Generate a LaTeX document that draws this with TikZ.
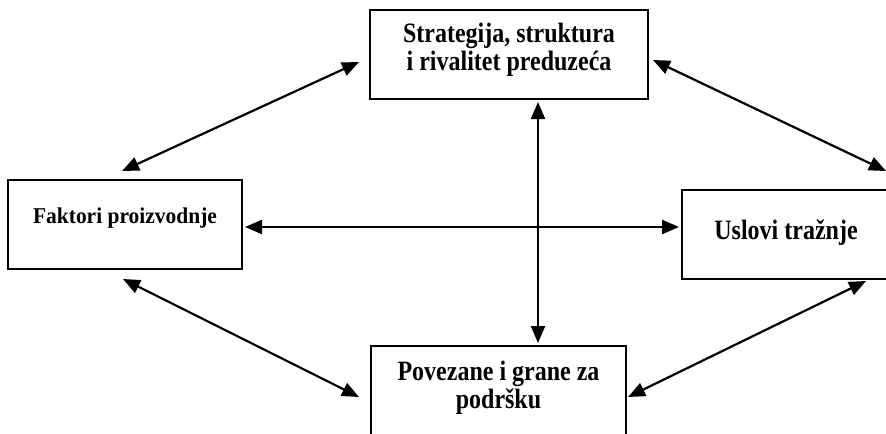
\documentclass[tikz,border=0pt]{standalone}
\usepackage{fontspec}
\setmainfont{Liberation Serif}
\newfontfamily\boxfont[FakeStretch=0.857]{Liberation Serif}
\newfontfamily\facfont[FakeStretch=0.95]{Liberation Serif}
\usetikzlibrary{arrows.meta}
\tikzset{
    box/.style={
        draw,
        line width=1pt,
        inner sep=0pt,
        align=center,
        font=\boxfont\bfseries\fontsize{14}{11.5}\selectfont
    },
    every edge/.append style={
        draw,
        line width=1.1pt,
        {Triangle[length=8.5pt,width=7pt]}-{Triangle[length=8.5pt,width=7pt]}
    }
}

\begin{document}
\begin{tikzpicture}[x=0.5pt,y=-0.5pt]
    \useasboundingbox (0,0) rectangle (886,433);
    \clip (0,0) rectangle (886,433);

    \node[box, minimum width=139pt, minimum height=44.5pt, text height=19pt, text depth=3.5pt] (str) at (509,54.5) {Strategija, struktura\\i rivalitet preduzeća};
    \node[box, minimum width=117pt, minimum height=44.5pt, text height=7.5pt, text depth=9pt,
          font=\facfont\bfseries\fontsize{11.3}{12}\selectfont] (fak) at (125,224.5) {Faktori proizvodnje};
    \node[box, minimum width=104pt, minimum height=44.5pt, text height=8.5pt, text depth=4pt] (usl) at (786,234.5) {Uslovi tražnje};
    \node[box, minimum width=127.5pt, minimum height=47pt, text height=18.5pt, text depth=3.5pt,
          font=\boxfont\bfseries\fontsize{14}{12.5}\selectfont] (pod) at (498.5,393) {Povezane i grane za\\podršku};

    \draw ([shift={(-3,-8)}]fak.north) edge ([shift={(-10,7.5)}]str.west);
    \draw ([shift={(4,5.5)}]str.east) edge ([shift={(-5,-18)}]usl.north east);
    \draw ([shift={(2,2.5)}]fak.east) edge ([shift={(-2,-7.5)}]usl.west);
    \draw ([shift={(29,2)}]str.south) edge ([shift={(39.5,-2)}]pod.north);
    \draw ([shift={(-2,9)}]fak.south) edge ([shift={(-11,4)}]pod.west);
    \draw ([shift={(-25,1)}]usl.south east) edge ([shift={(1,4)}]pod.east);
\end{tikzpicture}
\end{document}
